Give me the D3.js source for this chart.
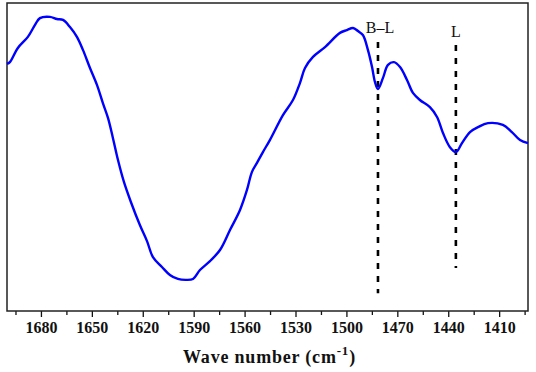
<!DOCTYPE html>
<html>
<head>
<meta charset="utf-8">
<script src="https://cdn.jsdelivr.net/npm/d3@7"></script>
<style>
  body { margin: 0; background: #fff; }
  svg { display: block; }
</style>
</head>
<body>
<div class="canvas"></div>
<script>
// !--------------------------------------------------------------data content below

// wavenumber (cm-1)
const waveNumbers = [
  1700.0, 1698.3, 1693.6, 1687.7, 1683.5, 1680.6, 1674.7, 1670.6, 1667.0, 1662.9,
  1658.8, 1655.2, 1651.1, 1647.0, 1643.5, 1640.5, 1637.6, 1634.6, 1631.1, 1627.0,
  1621.7, 1617.5, 1614.0, 1608.7, 1604.0, 1599.3, 1594.6, 1590.4, 1586.3, 1580.4,
  1574.5, 1568.6, 1562.7, 1558.6, 1555.7, 1552.7, 1549.2, 1545.1, 1537.4, 1531.5,
  1527.4, 1524.4, 1519.7, 1512.6, 1503.8, 1499.7, 1496.1, 1493.2, 1490.3, 1487.3,
  1484.9, 1483.2, 1481.4, 1478.5, 1475.5, 1472.0, 1468.4, 1464.3, 1460.8, 1456.7,
  1450.8, 1446.6, 1443.1, 1439.0, 1435.5, 1431.9, 1427.2, 1422.5, 1416.6, 1407.8,
  1402.5, 1397.7, 1393.0
];

// signal (arbitrary units, no y axis in the original)
const signal = [
  80.2, 80.8, 85.4, 89.0, 92.9, 95.1, 95.5, 94.8, 94.5, 92.2,
  89.0, 84.7, 78.9, 73.4, 67.5, 62.7, 56.2, 49.0, 41.9, 35.4,
  27.9, 22.7, 17.5, 14.3, 11.7, 10.4, 10.1, 10.4, 13.3, 16.2,
  19.8, 26.3, 32.8, 39.3, 45.1, 48.1, 51.6, 55.5, 63.6, 68.5,
  74.0, 78.9, 82.5, 85.7, 90.3, 91.2, 91.9, 90.9, 89.6, 84.7,
  79.2, 74.4, 72.1, 75.6, 79.9, 80.8, 79.2, 75.0, 70.8, 68.5,
  66.2, 63.0, 57.8, 53.2, 51.6, 54.5, 58.1, 59.7, 61.0, 60.4,
  58.1, 55.5, 54.5
];

// dashed band markers
const markerLabels = ['B\u2013L', 'L'];
const markerPositions = [1481.4, 1435.5];
const markerTop = [87.3, 86.4];
const markerBottom = [5.8, 14.0];

// axis ticks
const majorTicks = [1680, 1650, 1620, 1590, 1560, 1530, 1500, 1470, 1440, 1410];
const minorTicks = [1695, 1665, 1635, 1605, 1575, 1545, 1515, 1485, 1455, 1425, 1395];

// !----------------------------------------------------------graph content below

const dims = { width: 536, height: 372, fontFamily: '"Liberation Serif", "Times New Roman", serif' };
const plot = { left: 7, right: 528, top: 3, bottom: 311 };

const svg = d3
  .select('.canvas')
  .append('svg')
  .attr('width', dims.width)
  .attr('height', dims.height);

const x = d3.scaleLinear().domain([1700, 1393]).range([plot.left, plot.right]);
const y = d3.scaleLinear().domain([0, 100]).range([plot.bottom, plot.top]);

// minor ticks
svg
  .append('g')
  .attr('transform', `translate(0, ${plot.bottom})`)
  .call(d3.axisBottom(x).tickValues(minorTicks).tickSize(4).tickFormat(''))
  .call((g) => g.select('.domain').remove())
  .selectAll('line')
  .attr('stroke', '#111')
  .attr('stroke-width', 1.3);

// major ticks + labels
const xAxis = svg
  .append('g')
  .attr('transform', `translate(0, ${plot.bottom})`)
  .call(d3.axisBottom(x).tickValues(majorTicks).tickSize(6).tickPadding(5).tickFormat(d3.format('d')));

xAxis.select('.domain').remove();
xAxis.selectAll('line').attr('stroke', '#111').attr('stroke-width', 1.3);
xAxis
  .selectAll('text')
  .attr('fill', '#111')
  .attr('font-family', dims.fontFamily)
  .attr('font-weight', 'bold')
  .attr('font-size', '16px');

// frame
svg
  .append('rect')
  .attr('x', plot.left)
  .attr('y', plot.top)
  .attr('width', plot.right - plot.left)
  .attr('height', plot.bottom - plot.top)
  .attr('fill', 'none')
  .attr('stroke', '#222')
  .attr('stroke-width', 1.5);

// dashed markers
const markers = markerLabels.map((label, i) => ({
  label,
  pos: markerPositions[i],
  top: markerTop[i],
  bottom: markerBottom[i],
}));

svg
  .selectAll('line.marker')
  .data(markers)
  .enter()
  .append('line')
  .attr('class', 'marker')
  .attr('x1', (d) => x(d.pos))
  .attr('x2', (d) => x(d.pos))
  .attr('y1', (d) => y(d.top))
  .attr('y2', (d) => y(d.bottom))
  .attr('stroke', '#000')
  .attr('stroke-width', 2.6)
  .attr('stroke-dasharray', '6,7');

svg
  .selectAll('text.marker')
  .data(markers)
  .enter()
  .append('text')
  .attr('class', 'marker')
  .attr('x', (d) => x(d.pos) + (d.label === 'L' ? 0 : 2))
  .attr('y', (d) => y(d.top) - (d.label === 'L' ? 8 : 9))
  .attr('text-anchor', 'middle')
  .attr('font-family', dims.fontFamily)
  .attr('font-size', '16px')
  .attr('fill', '#111')
  .text((d) => d.label);

// spectrum
const points = waveNumbers.map((w, i) => ({ w, v: signal[i] }));
const line = d3
  .line()
  .x((d) => x(d.w))
  .y((d) => y(d.v))
  .curve(d3.curveCatmullRom.alpha(0.5));

svg
  .append('path')
  .datum(points)
  .attr('d', line)
  .attr('fill', 'none')
  .attr('stroke', '#0000ff')
  .attr('stroke-width', 2.4)
  .attr('stroke-linejoin', 'round');

// axis title
const title = svg
  .append('text')
  .attr('x', (plot.left + plot.right) / 2 + 2)
  .attr('y', 363)
  .attr('text-anchor', 'middle')
  .attr('font-family', dims.fontFamily)
  .attr('font-weight', 'bold')
  .attr('font-size', '18px')
  .attr('letter-spacing', '0.8px')
  .attr('fill', '#111');

title.append('tspan').text('Wave number (cm');
title.append('tspan').attr('dy', -8).attr('font-size', '13px').text('-1');
title.append('tspan').attr('dy', 8).text(')');
</script>
</body>
</html>
